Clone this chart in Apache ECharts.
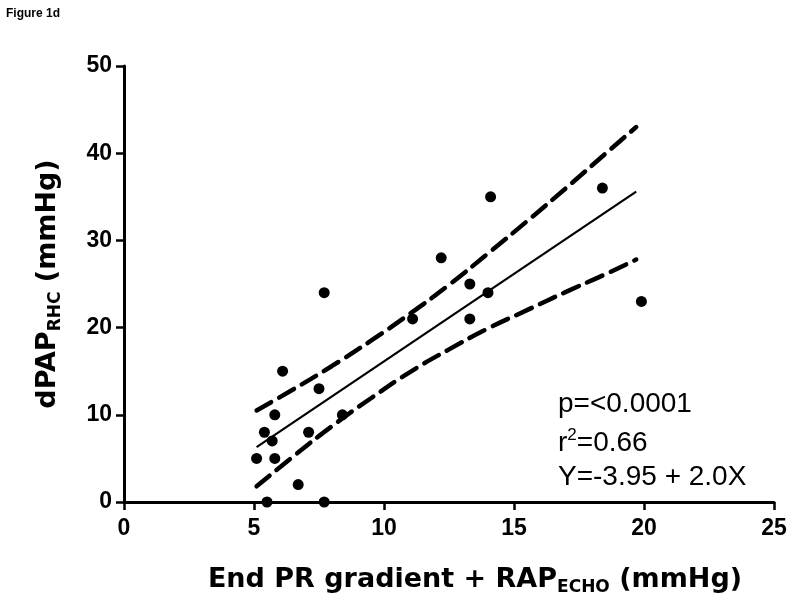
<!DOCTYPE html>
<html>
<head>
<meta charset="utf-8">
<script src="https://cdn.jsdelivr.net/npm/echarts@6/dist/echarts.min.js"></script>
<style>html,body{margin:0;padding:0;background:#fff}#c{width:800px;height:611px}</style>
</head>
<body>
<div id="c"></div>
<script>
// Data
const points = [
  [5.1, 5], [5.4, 8], [5.5, 0], [5.7, 7], [5.8, 10], [5.8, 5], [6.1, 15],
  [6.7, 2], [7.1, 8], [7.5, 13], [7.7, 24], [7.7, 0], [8.4, 10],
  [11.1, 21], [12.2, 28], [13.3, 25], [13.3, 21], [14.0, 24], [14.1, 35],
  [18.4, 36], [19.9, 23]
];
const fitLine = [[5.1, 6.3], [19.7, 35.6]];
const upperBand = [[5.1, 10.5], [6.5, 12.9], [8.0, 15.6], [9.5, 18.5], [11.0, 21.6], [12.5, 24.9],
  [14.0, 28.5], [15.5, 32.2], [17.0, 36.0], [18.5, 39.9], [19.7, 43.0]];
const lowerBand = [[5.1, 1.8], [6.5, 5.2], [8.0, 8.7], [9.5, 11.9], [11.0, 14.9], [12.5, 17.5],
  [14.0, 19.9], [15.5, 22.0], [17.0, 24.1], [18.5, 26.1], [19.7, 27.8]];
const xTicks = [0, 5, 10, 15, 20, 25];
const yTicks = [0, 10, 20, 30, 40, 50];
const statLines = ['p=<0.0001', 'r2=0.66', 'Y=-3.95 + 2.0X'];

const FONT = '"Liberation Sans", Arial, Helvetica, sans-serif';
const TFONT = '"DejaVu Sans", Verdana, sans-serif';
const chart = echarts.init(document.getElementById('c'), null, {renderer: 'canvas'});
const axisCommon = {
  axisLine: {show: true, onZero: false, lineStyle: {color: '#000', width: 3}},
  axisTick: {show: true, inside: false, length: 8, lineStyle: {color: '#000', width: 2.5}},
  splitLine: {show: false},
  axisLabel: {color: '#000', fontFamily: FONT, fontWeight: 'bold', fontSize: 23}
};
const titleRich = {
  m: {fontFamily: TFONT, fontWeight: 'bold', fontSize: 27, color: '#000'},
  s: {fontFamily: TFONT, fontWeight: 'bold', fontSize: 17, color: '#000', padding: [16, 0, 0, 0]}
};
const bandStyle = {color: '#000', width: 4.5, type: [17, 9], cap: 'round'};
chart.setOption({
  animation: false,
  backgroundColor: '#fff',
  grid: {left: 124, right: 26, top: 66, bottom: 109, containLabel: false},
  xAxis: Object.assign({}, axisCommon, {
    type: 'value', min: xTicks[0], max: xTicks[xTicks.length - 1], interval: 5,
    axisLabel: Object.assign({}, axisCommon.axisLabel, {margin: 15}),
    name: '{m|End PR gradient + RAP}{s|ECHO}{m| (mmHg)}',
    nameLocation: 'middle', nameGap: 61,
    nameTextStyle: {color: '#000', fontFamily: TFONT, fontWeight: 'bold', fontSize: 27,
      padding: [0, 0, 0, 52], rich: titleRich}
  }),
  yAxis: Object.assign({}, axisCommon, {
    type: 'value', min: yTicks[0], max: yTicks[yTicks.length - 1], interval: 10,
    axisLabel: Object.assign({}, axisCommon.axisLabel, {margin: 12}),
    name: '{m|dPAP}{s|RHC}{m| (mmHg)}',
    nameLocation: 'middle', nameGap: 60, nameRotate: 90,
    nameTextStyle: {color: '#000', fontFamily: TFONT, fontWeight: 'bold', fontSize: 27, rich: titleRich}
  }),
  graphic: [
    {type: 'text', left: 6, top: 8, style: {text: 'Figure 1d', fill: '#000', font: 'bold 12px ' + FONT}},
    {type: 'text', left: 558, top: 390, style: {text: statLines[0], fill: '#000', font: '28px ' + FONT}},
    {type: 'text', left: 558, top: 427, style: {
      text: '{a|r}{b|2}{a|=0.66}',
      rich: {a: {fontSize: 28, fontFamily: FONT, color: '#000', padding: [8, 0, 0, 0]},
             b: {fontSize: 17, fontFamily: FONT, color: '#000', padding: [0, 0, 8, 0]}}}},
    {type: 'text', left: 558, top: 463, style: {text: statLines[2], fill: '#000', font: '28px ' + FONT}}
  ],
  series: [
    {type: 'line', data: upperBand, smooth: 0.5, symbol: 'none', lineStyle: bandStyle, silent: true, z: 2},
    {type: 'line', data: lowerBand, smooth: 0.5, symbol: 'none', lineStyle: bandStyle, silent: true, z: 2},
    {type: 'line', data: fitLine, symbol: 'none', lineStyle: {color: '#000', width: 2.2}, silent: true, z: 3},
    {type: 'scatter', data: points, symbol: 'circle', symbolSize: 11, itemStyle: {color: '#000', opacity: 1}, z: 4}
  ]
});
</script>
</body>
</html>
